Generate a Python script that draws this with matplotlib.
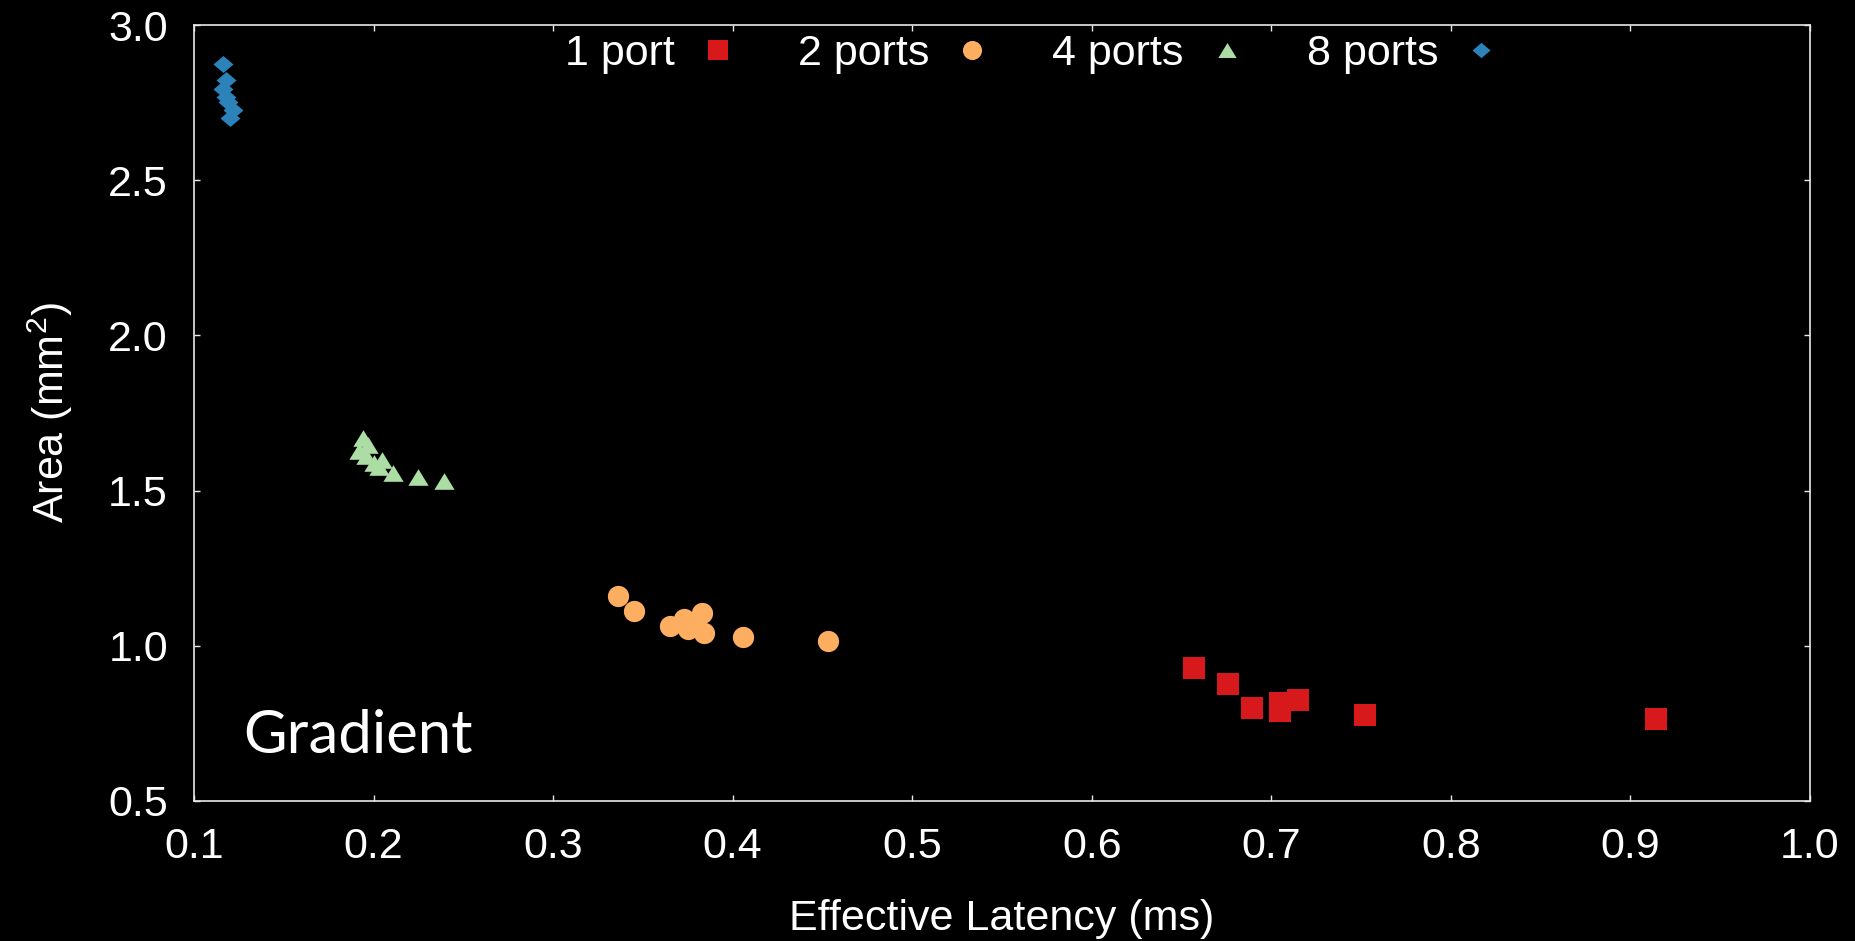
import numpy as np
import matplotlib
matplotlib.use("Agg")
import matplotlib.pyplot as plt

# values
port1_x = [0.657, 0.676, 0.689, 0.705, 0.705, 0.715, 0.752, 0.914]
port1_y = [0.929, 0.878, 0.800, 0.791, 0.816, 0.826, 0.778, 0.765]

port2_x = [0.336, 0.345, 0.365, 0.373, 0.375, 0.378, 0.383, 0.384, 0.406, 0.453]
port2_y = [1.159, 1.112, 1.065, 1.085, 1.055, 1.075, 1.105, 1.040, 1.029, 1.016]

port4_x = [0.194, 0.197, 0.192, 0.196, 0.200, 0.205, 0.203, 0.211, 0.225, 0.239]
port4_y = [1.668, 1.648, 1.628, 1.612, 1.588, 1.600, 1.575, 1.556, 1.545, 1.531]

port8_x = [0.116, 0.118, 0.116, 0.118, 0.119, 0.122, 0.120]
port8_y = [2.873, 2.823, 2.793, 2.769, 2.753, 2.726, 2.701]

labels = ["1 port", "2 ports", "4 ports", "8 ports"]
colors = ["#d7191c", "#fdae61", "#abdda4", "#2b83ba"]

x_ticks = [0.1, 0.2, 0.3, 0.4, 0.5, 0.6, 0.7, 0.8, 0.9, 1.0]
y_ticks = [0.5, 1.0, 1.5, 2.0, 2.5, 3.0]

plt.rcParams['font.family'] = ['Liberation Sans', 'DejaVu Sans']
plt.rcParams['mathtext.fontset'] = 'custom'
plt.rcParams['mathtext.rm'] = 'Liberation Sans'

tri = [(-1, -0.82), (1, -0.82), (0, 0.82), (-1, -0.82)]
dia = [(0, 0.85), (1, 0), (0, -0.85), (-1, 0), (0, 0.85)]

fs = 31
fg = "#e8e8e8"
fig = plt.figure(figsize=(18.56, 9.41), dpi=100, facecolor="black")
ax = fig.add_axes([0.1045, 0.1488, 0.8707, 0.8246])
ax.set_facecolor("black")

ax.plot(port1_x, port1_y, ls="none", marker="s", ms=15.8, mew=0, color=colors[0], label=labels[0])
ax.plot(port2_x, port2_y, ls="none", marker="o", ms=15.3, mew=0, color=colors[1], label=labels[1])
ax.plot(port4_x, port4_y, ls="none", marker=tri, ms=14.6, mew=0, color=colors[2], label=labels[2])
ax.plot(port8_x, port8_y, ls="none", marker=dia, ms=14.4, mew=0, color=colors[3], label=labels[3])

ax.set_xlim(0.1, 1.0)
ax.set_ylim(0.5, 3.0)
ax.set_xticks(x_ticks)
ax.set_yticks(y_ticks)
ax.set_xticklabels([f"{v:.1f}" for v in x_ticks])
ax.set_yticklabels([f"{v:.1f}" for v in y_ticks])

for s in ax.spines.values():
    s.set_color(fg)
    s.set_linewidth(1.2)
ax.tick_params(direction="in", top=True, right=True, length=4.3, width=1.0,
               color=fg, labelcolor="white", labelsize=fs, pad=18.7)

ax.set_xlabel("Effective Latency (ms)", color="white", fontsize=fs, labelpad=23)
ax.set_ylabel(r"Area (mm$^\mathregular{2}$)", color="white", fontsize=fs, labelpad=24)

ax.text(0.0303, 0.0619, "Gradient", transform=ax.transAxes, color="white",
        fontsize=43, family="Lato", va="baseline", ha="left")

leg = ax.legend(loc="center", bbox_to_anchor=(0.517, 0.9626), ncol=4, frameon=False,
                markerfirst=False, fontsize=fs, handlelength=0.6, handletextpad=0.7,
                columnspacing=1.56, markerscale=0.9, borderpad=0.2)
for t in leg.get_texts():
    t.set_color("white")

fig.savefig("out.png", dpi=100, facecolor="black")
